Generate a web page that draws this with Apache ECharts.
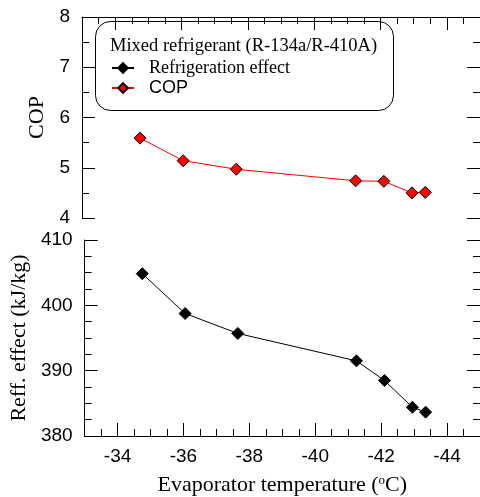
<!DOCTYPE html>
<html>
<head>
<meta charset="utf-8">
<script src="https://cdn.jsdelivr.net/npm/echarts@6/dist/echarts.min.js"></script>
<style>
  html, body { margin: 0; padding: 0; background: #fff; }
  #chart { width: 480px; height: 497px; }
</style>
</head>
<body>
<div id="chart"></div>
<script>
// evaporator temperature (oC)
var temps = [-34.75, -36.05, -37.65, -41.25, -42.1, -42.95, -43.35];
// COP
var copVals = [5.59, 5.14, 4.97, 4.74, 4.73, 4.50, 4.51];
// refrigeration effect (kJ/kg)
var reffVals = [404.85, 398.75, 395.7, 391.5, 388.5, 384.4, 383.65];
// labelled ticks on the temperature axis
var tempTicks = [-44, -42, -40, -38, -36, -34];

var serif = '"Liberation Serif", "Times New Roman", serif';
var sans = '"Liberation Sans", Arial, sans-serif';

var myChart = echarts.init(document.getElementById('chart'));

function pairs(xs, ys) {
    return xs.map(function (x, i) { return [x, ys[i]]; });
}

var lineBlack = { color: '#000', width: 1 };

// x axis that carries data and the short ticks
function dataX(grid, pos, withLabels) {
    return {
        type: 'value', gridIndex: grid, position: pos,
        min: -45, max: -33, interval: 0.5, inverse: true,
        axisLine: { show: true, onZero: false, lineStyle: lineBlack },
        axisTick: { show: true, inside: true, length: 7, lineStyle: lineBlack },
        axisLabel: {
            show: withLabels, customValues: tempTicks, margin: 11,
            color: '#000', fontSize: 19, fontFamily: sans
        },
        splitLine: { show: false }
    };
}
// overlay axis for the long ticks every 2 degrees
function tallX(grid, pos) {
    return {
        type: 'value', gridIndex: grid, position: pos,
        min: -45, max: -33, inverse: true,
        axisLine: { show: false },
        axisTick: { show: true, inside: true, length: 13, customValues: tempTicks, lineStyle: lineBlack },
        axisLabel: { show: false },
        splitLine: { show: false }
    };
}
function valY(grid, pos, min, max, step, minor, withLabels) {
    return {
        type: 'value', gridIndex: grid, position: pos,
        min: min, max: max, interval: step,
        axisLine: { show: true, lineStyle: lineBlack },
        axisTick: { show: true, inside: true, length: 13, lineStyle: lineBlack },
        minorTick: { show: true, splitNumber: minor, length: 7, lineStyle: lineBlack },
        axisLabel: {
            show: withLabels, margin: 12,
            color: '#000', fontSize: 19, fontFamily: sans
        },
        splitLine: { show: false },
        minorSplitLine: { show: false }
    };
}

var xBottom = dataX(0, 'bottom', true);
xBottom.name = 'Evaporator temperature ({sup|o}C)';
xBottom.nameLocation = 'middle';
xBottom.nameGap = 38;
xBottom.nameTextStyle = {
    color: '#000', fontSize: 22, fontFamily: serif,
    rich: { sup: { fontSize: 13, fontFamily: serif, color: '#000', verticalAlign: 'top', padding: [0, 0, 8, 0] } }
};

var yReff = valY(0, 'left', 380, 410, 10, 4, true);
yReff.name = 'Reff. effect (kJ/kg)';
yReff.nameLocation = 'middle';
yReff.nameGap = 50;
yReff.nameTextStyle = { color: '#000', fontSize: 22, fontFamily: serif };

var yCop = valY(1, 'left', 4, 8, 1, 2, true);
yCop.name = 'COP';
yCop.nameLocation = 'middle';
yCop.nameGap = 30;
yCop.nameTextStyle = { color: '#000', fontSize: 22, fontFamily: serif };

option = {
    backgroundColor: '#fff',
    animation: false,
    grid: [
        { left: 82, right: -2, top: 240, height: 200 },
        { left: 82, right: -2, top: 17, height: 201 }
    ],
    xAxis: [
        xBottom,
        tallX(0, 'bottom'),
        dataX(1, 'top', false),
        tallX(1, 'top')
    ],
    yAxis: [
        yReff,
        valY(0, 'right', 380, 410, 10, 4, false),
        yCop,
        valY(1, 'right', 4, 8, 1, 2, false)
    ],
    legend: {
        left: 111,
        top: 59,
        padding: 0,
        orient: 'vertical',
        itemWidth: 22,
        itemHeight: 12,
        itemGap: 2,
        textStyle: { color: '#000', fontSize: 18, lineHeight: 14, padding: [0, 0, 0, 10] },
        data: [
            { name: 'Refrigeration effect', textStyle: { fontFamily: serif } },
            { name: 'COP', textStyle: { fontFamily: sans } }
        ]
    },
    graphic: [
        {
            type: 'rect', z: 0, silent: true,
            shape: { x: 95.5, y: 21.5, width: 298, height: 89, r: 15 },
            style: { fill: 'none', stroke: '#000', lineWidth: 1 }
        },
        {
            type: 'text', z: 0, silent: true,
            style: {
                x: 110, y: 46, text: 'Mixed refrigerant (R-134a/R-410A)',
                fontSize: 18.5, fontFamily: serif, fill: '#000', verticalAlign: 'middle'
            }
        }
    ],
    series: [
        {
            name: 'Refrigeration effect',
            type: 'line',
            xAxisIndex: 0, yAxisIndex: 0,
            symbol: 'diamond', symbolSize: 12,
            lineStyle: { color: '#000', width: 1 },
            itemStyle: { color: '#000', borderColor: '#000', borderWidth: 1 },
            data: pairs(temps, reffVals)
        },
        {
            name: 'COP',
            type: 'line',
            xAxisIndex: 2, yAxisIndex: 2,
            symbol: 'diamond', symbolSize: 12,
            lineStyle: { color: '#ff0000', width: 1 },
            itemStyle: { color: '#ff0000', borderColor: '#000', borderWidth: 1 },
            data: pairs(temps, copVals)
        }
    ]
};

myChart.setOption(option);
window.addEventListener('resize', function () {
    myChart.resize();
});
</script>
</body>
</html>
